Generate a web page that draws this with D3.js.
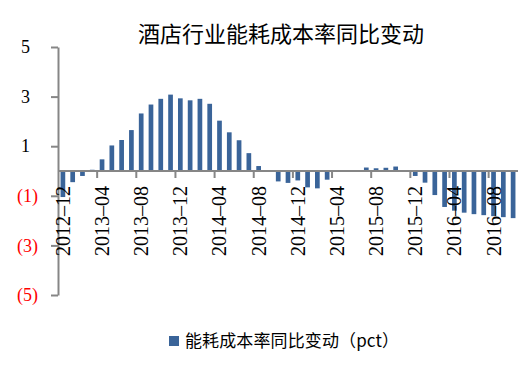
<!DOCTYPE html>
<html>
<head>
<meta charset="utf-8">
<script src="https://cdn.jsdelivr.net/npm/d3@7"></script>
<style>
  body { margin: 0; background: #fff; }
  svg { display: block; }
</style>
</head>
<body>
<div class="chart"></div>
<script>
// months shown on the category axis
var months = ["2012-12",
  "2013-01","2013-02","2013-03","2013-04","2013-05","2013-06","2013-07","2013-08","2013-09","2013-10","2013-11","2013-12",
  "2014-01","2014-02","2014-03","2014-04","2014-05","2014-06","2014-07","2014-08","2014-09","2014-10","2014-11","2014-12",
  "2015-01","2015-02","2015-03","2015-04","2015-05","2015-06","2015-07","2015-08","2015-09","2015-10","2015-11","2015-12",
  "2016-01","2016-02","2016-03","2016-04","2016-05","2016-06","2016-07","2016-08","2016-09","2016-10"];

// yoy change of energy cost rate (pct)
var values = [-1.05,
  -0.45,-0.2,0.05,0.47,1.03,1.25,1.65,2.32,2.68,2.91,3.08,2.93,
  2.85,2.91,2.71,2.03,1.56,1.24,0.72,0.2,0,-0.42,-0.48,-0.38,
  -0.66,-0.7,-0.35,0,0,0,0.14,0.11,0.13,0.18,0,-0.2,
  -0.47,-0.97,-1.45,-1.6,-1.68,-1.74,-1.78,-1.82,-1.86,-1.9];

var yTicks = [5, 3, 1, -1, -3, -5];
var labelEvery = 4;

var title = "酒店行业能耗成本率同比变动";
var seriesName = "能耗成本率同比变动（pct）";

var barColor = "#3a6499";
var axisColor = "#868686";

var data = months.map(function(m, i) { return { month: m, value: values[i] }; });

var svg = d3.select(".chart").append("svg")
            .attr("width", 529)
            .attr("height", 373);

var x = d3.scaleBand()
          .domain(months)
          .range([58, 518])
          .paddingInner(0.52)
          .paddingOuter(0.26);

var y = d3.scaleLinear()
          .domain([-5, 5])
          .range([295, 47]);

// title
svg.append("text")
   .attr("x", 281)
   .attr("y", 42)
   .attr("text-anchor", "middle")
   .style("font-family", "'Noto Sans CJK SC'")
   .style("font-size", "22px")
   .style("fill", "#000")
   .text(title);

// bars
svg.selectAll("rect.bar")
   .data(data)
   .enter()
   .append("rect")
   .attr("class", "bar")
   .attr("x", function(d) { return x(d.month); })
   .attr("y", function(d) { return y(Math.max(0, d.value)); })
   .attr("width", x.bandwidth())
   .attr("height", function(d) { return Math.abs(y(d.value) - y(0)); })
   .style("fill", barColor);

// y axis
var yAxis = svg.append("g")
               .attr("transform", "translate(58,0)")
               .call(d3.axisLeft(y)
                       .tickValues(yTicks)
                       .tickSize(7)
                       .tickSizeOuter(0)
                       .tickPadding(13)
                       .tickFormat(function(d) { return d < 0 ? "(" + (-d) + ")" : d; }));

yAxis.select(".domain").attr("stroke", axisColor).attr("stroke-width", 2);
yAxis.selectAll(".tick line").attr("stroke", axisColor).attr("stroke-width", 2);
yAxis.selectAll(".tick text")
     .style("font-family", "'Liberation Serif', serif")
     .style("font-size", "18px")
     .style("fill", function(d) { return d < 0 ? "#ff0000" : "#000"; })
     .attr("dx", function(d) { return d < 0 ? 0 : -8; });

// x axis line at zero
var step = x.step();
var half = (step - x.bandwidth()) / 2;

svg.append("line")
   .attr("x1", 58)
   .attr("x2", 518)
   .attr("y1", y(0))
   .attr("y2", y(0))
   .attr("stroke", axisColor)
   .attr("stroke-width", 2);

var shown = months.filter(function(m, i) { return i % labelEvery === 0; });

// tick marks between categories
svg.selectAll("line.xtick")
   .data(shown.slice(1))
   .enter()
   .append("line")
   .attr("class", "xtick")
   .attr("x1", function(d) { return x(d) - half; })
   .attr("x2", function(d) { return x(d) - half; })
   .attr("y1", y(0))
   .attr("y2", y(0) + 7)
   .attr("stroke", axisColor)
   .attr("stroke-width", 2);

// rotated month labels
svg.selectAll("text.xlabel")
   .data(shown)
   .enter()
   .append("text")
   .attr("class", "xlabel")
   .attr("transform", function(d) {
     return "translate(" + (x(d) + x.bandwidth() / 2) + "," + (y(0) + 15) + ") rotate(-90)";
   })
   .attr("text-anchor", "end")
   .attr("dy", "0.35em")
   .style("font-family", "'Liberation Serif', serif")
   .style("font-size", "20px")
   .style("fill", "#000")
   .text(function(d) { return d.replace("-", "\u2013"); });

// legend
svg.append("rect")
   .attr("x", 169)
   .attr("y", 336)
   .attr("width", 10)
   .attr("height", 10)
   .style("fill", barColor);

svg.append("text")
   .attr("x", 185)
   .attr("y", 347)
   .attr("textLength", 214)
   .attr("lengthAdjust", "spacing")
   .style("font-family", "'Noto Sans CJK SC'")
   .style("font-size", "17px")
   .style("fill", "#000")
   .text(seriesName);
</script>
</body>
</html>
